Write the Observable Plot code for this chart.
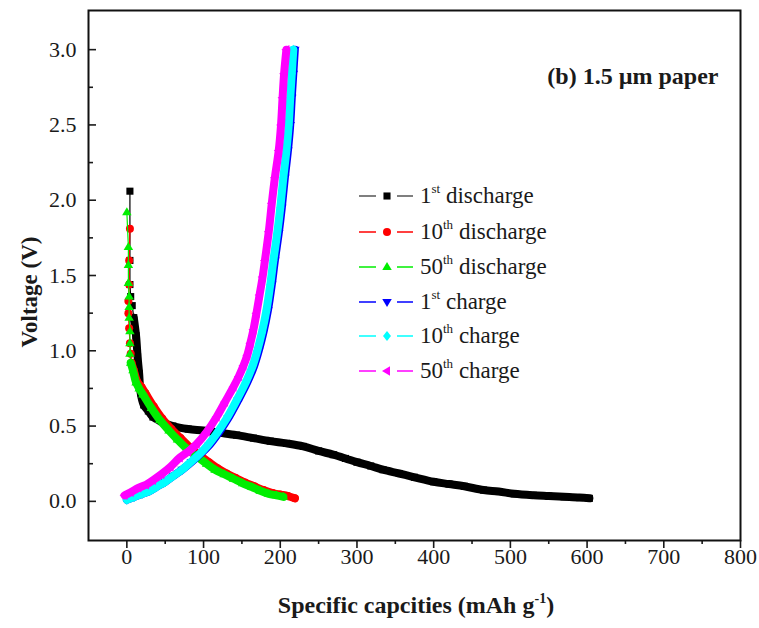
<!DOCTYPE html>
<html>
<head>
<meta charset="utf-8">
<script src="https://cdn.jsdelivr.net/npm/d3@7"></script>
<script src="https://cdn.jsdelivr.net/npm/@observablehq/plot@0.6"></script>
<style>
  body { margin: 0; background: #fff; }
  #wrap { position: relative; width: 759px; height: 628px; background: #fff; }
</style>
</head>
<body>
<div id="wrap"></div>
<script>
// ---------- data ----------
// [specific capacity (mAh/g), voltage (V)]
const discharge1st = [
  [4,2.06],[4,1.60],[4,1.44],[5,1.36],[7,1.30],
  [9,1.22],[12,1.10],[14,0.96],[16,0.85],[18,0.72],[22,0.64],[28,0.60],[34,0.56],[45,0.53],
  [60,0.50],[80,0.48],[100,0.47],[122,0.455],[143,0.44],[165,0.42],[187,0.40],[208,0.385],
  [230,0.365],[250,0.335],[269,0.31],[285,0.285],[300,0.26],[318,0.235],[334,0.21],[355,0.185],
  [375,0.16],[400,0.13],[420,0.115],[440,0.10],[465,0.075],[485,0.065],[505,0.05],[530,0.04],
  [550,0.035],[570,0.03],[590,0.025],[603,0.02]
];
const discharge10th = [
  [4,1.81],[3,1.60],[3,1.44],[2,1.33],[2,1.25],[3,1.15],[4,1.05],[5,0.98],
  [6,0.92],[9,0.87],[14,0.79],[19,0.76],[24,0.72],[35,0.63],[46,0.55],[58,0.48],[70,0.42],
  [82,0.36],[94,0.31],[107,0.26],[118,0.22],[130,0.185],[142,0.155],[154,0.125],[166,0.10],
  [178,0.075],[190,0.055],[200,0.045],[210,0.035],[219,0.02]
];
const discharge50th = [
  [0,1.92],[2,1.69],[2,1.57],[2,1.45],[3,1.36],[3,1.29],[3,1.22],[4,1.13],[4,1.05],[4,0.98],
  [5,0.92],[8,0.87],[12,0.79],[16,0.75],[21,0.71],[32,0.62],[43,0.54],[55,0.47],[66,0.41],
  [78,0.35],[91,0.30],[104,0.25],[115,0.21],[127,0.18],[139,0.15],[151,0.12],[163,0.095],
  [174,0.07],[185,0.05],[195,0.04],[204,0.03]
];
const charge1st = [
  [0,0.01],[10,0.03],[20,0.05],[30,0.07],[40,0.10],[50,0.13],[61,0.17],[72,0.21],[84,0.26],
  [95,0.31],[107,0.37],[119,0.45],[132,0.55],[145,0.67],[157,0.79],[166,0.90],[172,1.00],
  [178,1.12],[184,1.27],[189,1.44],[193,1.60],[198,1.78],[202,1.95],[206,2.15],[210,2.33],
  [213,2.50],[215,2.68],[217,2.84],[219,3.00]
];
const charge10th = [
  [0,0.01],[10,0.03],[20,0.05],[30,0.07],[40,0.10],[50,0.13],[61,0.17],[72,0.21],[83,0.26],
  [94,0.31],[105,0.37],[117,0.45],[130,0.55],[143,0.67],[155,0.79],[164,0.90],[170,1.00],
  [176,1.12],[182,1.27],[187,1.44],[191,1.60],[196,1.78],[200,1.95],[204,2.15],[208,2.33],
  [211,2.50],[213,2.68],[215,2.84],[217,3.00]
];
const charge50th = [
  [-3,0.04],[5,0.06],[15,0.09],[25,0.11],[34,0.14],[45,0.18],[57,0.23],[69,0.29],[80,0.33],
  [91,0.38],[104,0.46],[117,0.56],[128,0.66],[139,0.76],[146,0.83],[152,0.90],[157,0.97],
  [161,1.05],[165,1.14],[169,1.25],[173,1.37],[177,1.49],[180,1.60],[185,1.79],[189,1.98],
  [193,2.15],[198,2.33],[201,2.50],[203,2.68],[205,2.84],[208,3.00]
];

const seriesData = [discharge1st, discharge10th, discharge50th, charge1st, charge10th, charge50th];
const seriesOrdinal = ["1", "10", "50", "1", "10", "50"];
const seriesSuffix = ["st", "th", "th", "st", "th", "th"];
const seriesKind = ["discharge", "discharge", "discharge", "charge", "charge", "charge"];
const seriesColors = ["#000000", "#ff0000", "#00ee00", "#0000ff", "#00ffff", "#ff00ff"];
const seriesSymbolNames = ["square", "circle", "triangleUp", "triangleDown", "diamond", "triangleLeft"];
// points above this voltage are sparse (single markers on a thin line)
const sparseAbove = [1.25, 0.95, 0.95, Infinity, Infinity, Infinity];

const xMajor = [0, 100, 200, 300, 400, 500, 600, 700, 800];
const xMinor = [50, 150, 250, 350, 450, 550, 650, 750];
const yMajor = [0, 0.5, 1.0, 1.5, 2.0, 2.5, 3.0];
const yMinor = [0.25, 0.75, 1.25, 1.75, 2.25, 2.75];

const xTitle = ["Specific capcities (mAh g", "-1", ")"];
const yTitle = "Voltage (V)";
const annotation = "(b) 1.5 \u00b5m paper";

// ---------- symbols ----------
const rad = size => Math.sqrt(size / Math.PI);
const symbols = {
  square: d3.symbolSquare,
  circle: d3.symbolCircle,
  diamond: {draw(c, size) { const r = rad(size) * 1.25; c.moveTo(0, -r); c.lineTo(r * 0.8, 0); c.lineTo(0, r); c.lineTo(-r * 0.8, 0); c.closePath(); }},
  triangleUp: {draw(c, size) { const r = rad(size) * 1.25; c.moveTo(0, -r); c.lineTo(r * 0.95, r * 0.6); c.lineTo(-r * 0.95, r * 0.6); c.closePath(); }},
  triangleDown: {draw(c, size) { const r = rad(size) * 1.25; c.moveTo(0, r); c.lineTo(r * 0.95, -r * 0.6); c.lineTo(-r * 0.95, -r * 0.6); c.closePath(); }},
  triangleLeft: {draw(c, size) { const r = rad(size) * 1.25; c.moveTo(-r, 0); c.lineTo(r * 0.6, -r * 0.95); c.lineTo(r * 0.6, r * 0.95); c.closePath(); }}
};

const font = "'Liberation Serif', 'Times New Roman', serif";

// ---------- marks ----------
const seriesMarks = seriesData.flatMap((data, i) => {
  const color = seriesColors[i];
  const dense = data.filter(d => d[1] <= sparseAbove[i]);
  return [
    Plot.line(data, {x: d => d[0], y: d => d[1], stroke: color, strokeWidth: 1.2}),
    Plot.line(dense, {x: d => d[0], y: d => d[1], stroke: color, strokeWidth: 8, curve: "catmull-rom", strokeLinejoin: "round", strokeLinecap: "round"}),
    Plot.dot(data, {x: d => d[0], y: d => d[1], fill: color, r: 4, symbol: symbols[seriesSymbolNames[i]]})
  ];
});

const chart = Plot.plot({
  width: 759,
  height: 628,
  marginLeft: 88,
  marginRight: 19,
  marginTop: 10,
  marginBottom: 88,
  x: {domain: [-50, 800]},
  y: {domain: [-0.26, 3.26]},
  style: {background: "#fff", color: "#1a1a1a"},
  marks: [
    Plot.axisX({ticks: xMajor, tickSize: 8, tickFormat: () => "", label: null, strokeWidth: 1.6}),
    Plot.axisX({ticks: xMinor, tickSize: 4, tickFormat: () => "", label: null, strokeWidth: 1.6}),
    Plot.axisY({ticks: yMajor, tickSize: -8, tickFormat: () => "", label: null, strokeWidth: 1.6}),
    Plot.axisY({ticks: yMinor, tickSize: -5, tickFormat: () => "", label: null, strokeWidth: 1.6}),
    Plot.text(xMajor, {x: d => d, frameAnchor: "bottom", dy: 23, text: d => String(d), fontSize: 22, fontFamily: font, fill: "#1a1a1a"}),
    Plot.text(yMajor, {y: d => d, frameAnchor: "left", dx: -12, textAnchor: "end", text: d3.format(".1f"), fontSize: 22, fontFamily: font, fill: "#1a1a1a"}),
    ...seriesMarks,
    Plot.frame({stroke: "#111", strokeWidth: 2}),
    Plot.text([annotation], {text: d => d, frameAnchor: "top-right", textAnchor: "end", dx: -22, dy: 56, fontWeight: "bold", fontSize: 24, fontFamily: font, fill: "#1a1a1a"})
  ]
});

document.getElementById("wrap").appendChild(chart);

// ---------- titles and legend (overlaid, like the original figure) ----------
const svg = d3.select(chart);
svg.attr("font-family", font);

const xt = svg.append("text")
  .attr("x", 416).attr("y", 613).attr("text-anchor", "middle")
  .attr("font-size", 24).attr("font-weight", "bold").attr("fill", "#1a1a1a");
xt.append("tspan").text(xTitle[0]);
xt.append("tspan").attr("dy", -10).attr("font-size", 14).text(xTitle[1]);
xt.append("tspan").attr("dy", 10).text(xTitle[2]);

svg.append("text")
  .attr("transform", "translate(37,292) rotate(-90)")
  .attr("text-anchor", "middle")
  .attr("font-size", 23).attr("font-weight", "bold").attr("fill", "#1a1a1a")
  .text(yTitle);

const legendRowY = [196, 232, 267, 302, 336, 371];
const lg = svg.append("g");
seriesData.forEach((_, i) => {
  const y = legendRowY[i];
  const color = seriesColors[i];
  const lineColor = i === 0 ? "#555" : color;
  lg.append("line").attr("x1", 359).attr("x2", 376).attr("y1", y).attr("y2", y).attr("stroke", lineColor).attr("stroke-width", 1.5);
  lg.append("line").attr("x1", 397).attr("x2", 413).attr("y1", y).attr("y2", y).attr("stroke", lineColor).attr("stroke-width", 1.5);
  lg.append("path").attr("transform", `translate(387,${y})`)
    .attr("d", d3.symbol().type(symbols[seriesSymbolNames[i]]).size(Math.PI * 16)())
    .attr("fill", color);
  const t = lg.append("text").attr("x", 420).attr("y", y + 7).attr("text-anchor", "start")
    .attr("font-size", 23).attr("fill", "#1a1a1a");
  t.append("tspan").text(seriesOrdinal[i]);
  t.append("tspan").attr("dy", -10).attr("font-size", 13).text(seriesSuffix[i]);
  t.append("tspan").attr("dy", 10).text(" " + seriesKind[i]);
});

svg.selectAll("text").style("font-family", font);
</script>
</body>
</html>
